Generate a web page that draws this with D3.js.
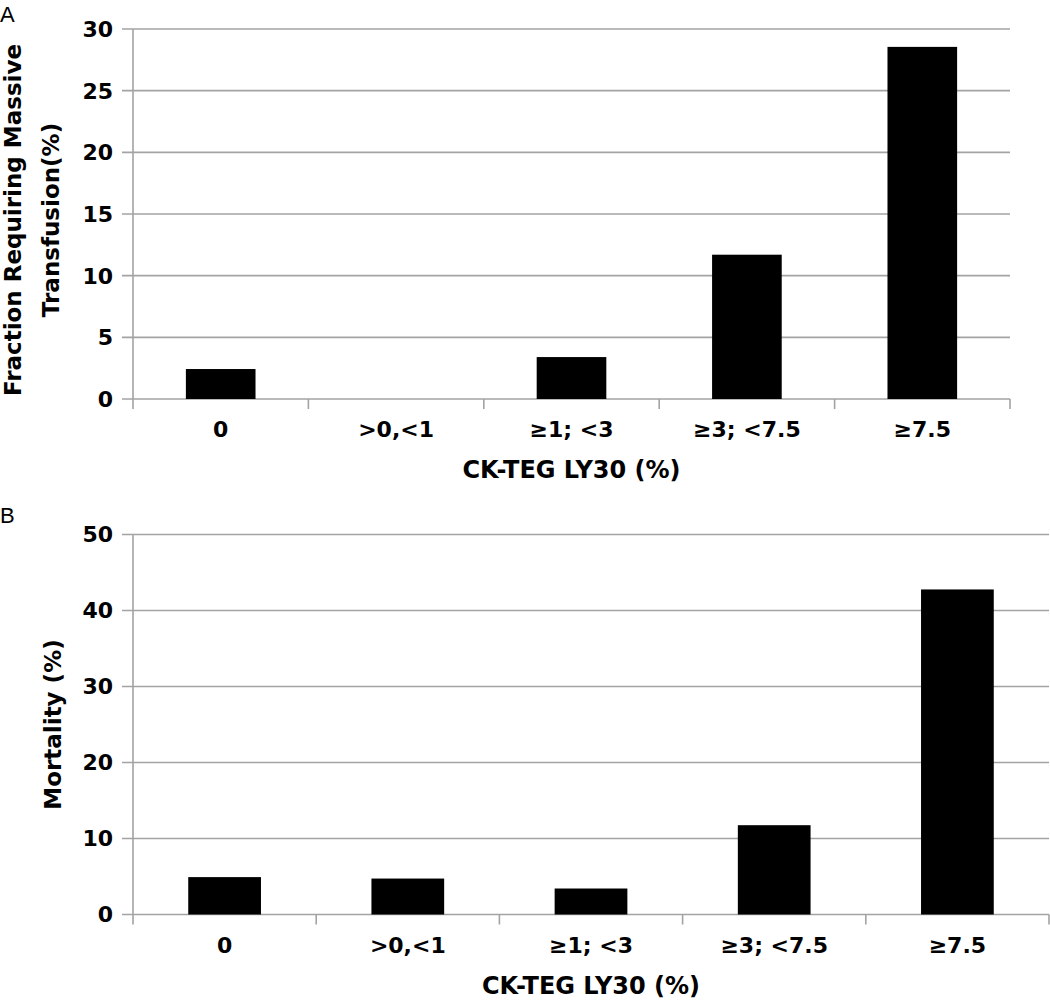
<!DOCTYPE html>
<html>
<head>
<meta charset="utf-8">
<script src="https://cdn.jsdelivr.net/npm/d3@7"></script>
<style>
  html, body { margin: 0; padding: 0; background: #fff; }
  svg { display: block; }
  text { font-family: "DejaVu Sans", sans-serif; font-weight: bold; fill: #000; }
</style>
</head>
<body>
<svg id="chart" width="1050" height="1000"></svg>
<script>
// ---- Data ----
const categories = ["0", ">0,<1", "\u22651; <3", "\u22653; <7.5", "\u22657.5"];
const transfusionValues = [2.43, 0, 3.4, 11.7, 28.55];
const mortalityValues = [4.92, 4.73, 3.42, 11.75, 42.77];
const transfusionTicks = [0, 5, 10, 15, 20, 25, 30];
const mortalityTicks = [0, 10, 20, 30, 40, 50];
const xAxisTitle = "CK-TEG LY30 (%)";
const transfusionTitle = ["Fraction Requiring Massive", "Transfusion(%)"];
const mortalityTitle = ["Mortality (%)"];
const panelLetters = ["A", "B"];

const svg = d3.select("#chart");
const gridColor = "#a3a3a3";

function panel(cfg) {
  const g = svg.append("g");
  const x = d3.scaleBand().domain(categories)
    .range([cfg.left, cfg.right]).paddingInner(0.603).paddingOuter(0.3015);
  const y = d3.scaleLinear().domain([0, cfg.max]).range([cfg.bottom, cfg.top]);

  // gridlines + y ticks
  g.selectAll(".grid").data(cfg.ticks).enter().append("line")
    .attr("x1", cfg.left - 11).attr("x2", cfg.right)
    .attr("y1", d => y(d)).attr("y2", d => y(d))
    .attr("stroke", gridColor).attr("stroke-width", 1.6);

  // y axis line
  g.append("line").attr("x1", cfg.left).attr("x2", cfg.left)
    .attr("y1", y(cfg.max)).attr("y2", cfg.bottom)
    .attr("stroke", gridColor).attr("stroke-width", 1.6);

  // x tick marks at band boundaries
  const edges = categories.map((c, i) => cfg.left + i * x.step());
  edges.push(cfg.right);
  g.selectAll(".xt").data(edges).enter().append("line")
    .attr("x1", d => d).attr("x2", d => d)
    .attr("y1", cfg.bottom).attr("y2", cfg.bottom + 10)
    .attr("stroke", gridColor).attr("stroke-width", 1.6);

  // bars
  g.selectAll(".bar").data(cfg.values).enter().append("rect")
    .attr("x", (d, i) => x(categories[i]))
    .attr("width", x.bandwidth())
    .attr("y", d => y(d))
    .attr("height", d => cfg.bottom - y(d))
    .attr("fill", "#000");

  // y tick labels
  g.selectAll(".yl").data(cfg.ticks).enter().append("text")
    .attr("x", cfg.left - 20).attr("y", d => y(d))
    .attr("dy", "0.36em")
    .attr("text-anchor", "end")
    .style("font-size", "22px")
    .text(d => d);

  // x tick labels
  g.selectAll(".xl").data(categories).enter().append("text")
    .attr("x", d => x(d) + x.bandwidth() / 2)
    .attr("y", cfg.bottom + 38)
    .attr("text-anchor", "middle")
    .style("font-size", "22px")
    .text(d => d);

  // x axis title
  g.append("text")
    .attr("x", (cfg.left + cfg.right) / 2)
    .attr("y", cfg.bottom + 79)
    .attr("text-anchor", "middle")
    .style("font-size", "24px")
    .text(xAxisTitle);

  // y axis title
  const cy = (cfg.top + cfg.bottom) / 2 + cfg.titleShift;
  cfg.title.forEach((t, i) => {
    g.append("text")
      .attr("transform", `translate(${cfg.titleX[i]},${cy}) rotate(-90)`)
      .attr("text-anchor", "middle")
      .style("font-size", "23px")
      .text(t);
  });

  // panel letter
  g.append("text")
    .attr("x", 0).attr("y", cfg.letterY)
    .style("font-family", "'Liberation Sans', Arial, sans-serif")
    .style("font-weight", "normal")
    .style("font-size", "22px")
    .text(cfg.letter);
}

panel({
  left: 133, right: 1010, top: 29, bottom: 399, max: 30,
  ticks: transfusionTicks, values: transfusionValues,
  title: transfusionTitle, titleX: [21, 59], titleShift: 6,
  letter: panelLetters[0], letterY: 22
});

panel({
  left: 133, right: 1049, top: 534.5, bottom: 914.5, max: 50,
  ticks: mortalityTicks, values: mortalityValues,
  title: mortalityTitle, titleX: [61], titleShift: 0,
  letter: panelLetters[1], letterY: 523
});
</script>
</body>
</html>
